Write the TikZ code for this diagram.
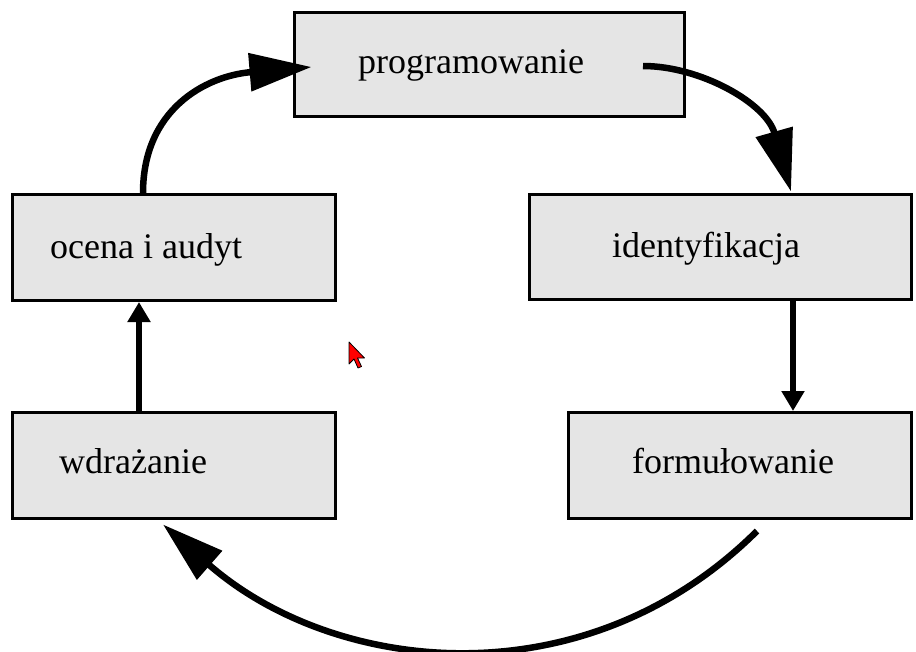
\documentclass[tikz,border=0pt]{standalone}
\usepackage{fontspec}
\setmainfont{Liberation Serif}
\usetikzlibrary{arrows.meta}
\begin{document}
\begin{tikzpicture}[x=1pt,y=-1pt,
  box/.style={draw=black, line width=3pt, fill=black!10, rectangle, inner sep=0pt, minimum height=106pt},
  lbl/.style={anchor=base west, inner sep=0pt, text=black, font=\fontsize{36}{40}\selectfont},
  bigarrow/.style={line width=6.5pt, -{Triangle[length=62pt,width=37pt]}},
  smallarrow/.style={line width=6.5pt, -{Triangle[length=20pt,width=22pt]}}]
\useasboundingbox (0,0) rectangle (916,651);

% boxes
\node[box, minimum width=390pt, minimum height=104pt] (prog) at (489.5,64.5) {};
\node[box, minimum width=323pt] (ocena) at (174,247.5) {};
\node[box, minimum width=382pt, minimum height=105pt] (ident) at (720.5,247) {};
\node[box, minimum width=323pt] (wdr) at (174,465.5) {};
\node[box, minimum width=343pt] (form) at (740,465.5) {};

% labels
\node[lbl] (progt) at (358,73) {programowanie};
\node[lbl] (ocenat) at (50,258) {ocena i audyt};
\node[lbl] (identt) at (612,257) {identyfikacja};
\node[lbl] (wdrt) at (59,473) {wdrażanie};
\node[lbl] (formt) at (632,473) {formułowanie};

% connectors
\draw[bigarrow] ([xshift=-31pt]ocena.north) .. controls (143,110) and (205,76) .. ([shift={(18.5pt,-2.5pt)}]prog.west);
\draw[bigarrow] ([shift={(-43pt,-1.5pt)}]prog.east) .. controls (700,66) and (766,103) .. ([shift={(70.5pt,1.5pt)}]ident.north);
\draw[smallarrow] ([xshift=72.5pt]ident.south) -- ([xshift=72.5pt]ident.south |- form.north);
\draw[bigarrow] ([shift={(17pt,-11pt)}]form.south) .. controls (585,702) and (335,675) .. ([shift={(-11pt,-4.5pt)}]wdr.south);
\draw[smallarrow] ([xshift=-35pt]wdr.north) -- ([xshift=-35pt]ocena.south);

% mouse cursor
\filldraw[fill=red, draw=black, line width=0.8pt, line join=round]
  (349,342) -- ++(0,22) -- ++(5,-5) -- ++(4,9) -- ++(3.5,-1.5) -- ++(-4,-8.5) -- ++(7,0) -- cycle;
\end{tikzpicture}
\end{document}
